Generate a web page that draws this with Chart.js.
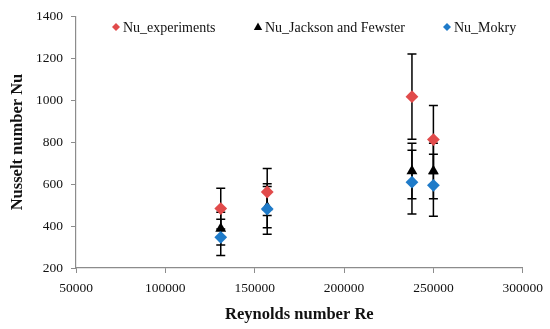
<!DOCTYPE html>
<html>
<head>
<meta charset="utf-8">
<script src="https://cdn.jsdelivr.net/npm/chart.js@4.4.0/dist/chart.umd.min.js"></script>
<style>
html,body{margin:0;padding:0;background:#fff;}
#wrap{width:550px;height:329px;position:relative;}
</style>
</head>
<body>
<div id="wrap"><canvas id="c" width="550" height="329"></canvas></div>
<script>
// ---- data ----
const reynolds = [131000, 157000, 238000, 250000];
const nuExperiments = [483, 562, 1016, 812];
const nuExperimentsErr = [97, 112, 203, 162];
const nuJackson = [388, 490, 662, 662];
const nuJacksonErr = [78, 98, 132, 132];
const nuMokry = [346, 481, 609, 594];
const nuMokryErr = [86, 120, 152, 148];
const xTickValues = [50000, 100000, 150000, 200000, 250000, 300000];
const yTickValues = [200, 400, 600, 800, 1000, 1200, 1400];
const seriesNames = ['Nu_experiments', 'Nu_Jackson and Fewster', 'Nu_Mokry'];
const xTitle = 'Reynolds number Re';
const yTitle = 'Nusselt number Nu';

const RED = '#E14B4B', BLACK = '#000000', BLUE = '#1F7BC9';
const SERIF = "'Liberation Serif', 'DejaVu Serif', serif";

function pts(ys) { return reynolds.map((x, i) => ({x: x, y: ys[i]})); }

const datasets = [
  {label: seriesNames[0], data: pts(nuExperiments), err: nuExperimentsErr, pointStyle: 'rectRot',
   pointRadius: 6.4, pointHoverRadius: 6.4, backgroundColor: RED, borderColor: RED, borderWidth: 0, order: 2},
  {label: seriesNames[1], data: pts(nuJackson), err: nuJacksonErr, pointStyle: 'triangle',
   pointRadius: 6.3, pointHoverRadius: 6.3, backgroundColor: BLACK, borderColor: BLACK, borderWidth: 0, order: 1},
  {label: seriesNames[2], data: pts(nuMokry), err: nuMokryErr, pointStyle: 'rectRot',
   pointRadius: 6.4, pointHoverRadius: 6.4, backgroundColor: BLUE, borderColor: BLUE, borderWidth: 0, order: 0}
];

const errorBars = {
  id: 'errorBars',
  beforeDatasetsDraw(chart) {
    const ctx = chart.ctx, xs = chart.scales.x, ys = chart.scales.y;
    ctx.save();
    ctx.strokeStyle = '#000';
    ctx.lineWidth = 1.5;
    chart.data.datasets.forEach(ds => {
      ds.data.forEach((p, i) => {
        const e = ds.err[i];
        const px = xs.getPixelForValue(p.x);
        const y1 = ys.getPixelForValue(p.y + e);
        const y2 = ys.getPixelForValue(p.y - e);
        const cw = 4.5;
        ctx.beginPath();
        ctx.moveTo(px, y1); ctx.lineTo(px, y2);
        ctx.moveTo(px - cw, y1); ctx.lineTo(px + cw, y1);
        ctx.moveTo(px - cw, y2); ctx.lineTo(px + cw, y2);
        ctx.stroke();
      });
    });
    ctx.restore();
  }
};

const customLegend = {
  id: 'customLegend',
  afterDraw(chart) {
    const ctx = chart.ctx;
    const y = 27;
    const items = [
      {x: 116, style: 'rectRot', color: RED},
      {x: 258, style: 'triangle', color: BLACK},
      {x: 447, style: 'rectRot', color: BLUE}
    ];
    ctx.save();
    ctx.font = '14px ' + SERIF;
    ctx.textBaseline = 'middle';
    ctx.textAlign = 'left';
    items.forEach((it, i) => {
      ctx.fillStyle = it.color;
      ctx.beginPath();
      if (it.style === 'rectRot') {
        const r = 4;
        ctx.moveTo(it.x, y - r); ctx.lineTo(it.x + r, y); ctx.lineTo(it.x, y + r); ctx.lineTo(it.x - r, y);
      } else {
        ctx.moveTo(it.x, y - 4.5); ctx.lineTo(it.x + 4.2, y + 3); ctx.lineTo(it.x - 4.2, y + 3);
      }
      ctx.closePath();
      ctx.fill();
      ctx.fillStyle = '#111';
      ctx.fillText(seriesNames[i], it.x + 7, y + 1);
    });
    ctx.restore();
  }
};

new Chart(document.getElementById('c'), {
  type: 'scatter',
  data: {datasets: datasets},
  plugins: [errorBars, customLegend],
  options: {
    responsive: false,
    animation: false,
    devicePixelRatio: 1,
    layout: {padding: {left: 0, right: 27, top: 15, bottom: 0}},
    plugins: {legend: {display: false}, tooltip: {enabled: false}},
    scales: {
      x: {
        type: 'linear', min: 50000, max: 300000,
        afterBuildTicks(s) { s.ticks = xTickValues.map(v => ({value: v})); },
        afterFit(s) { s.height = 61; },
        grid: {display: true, drawOnChartArea: false, drawTicks: true, tickLength: 5, color: '#8c8c8c', lineWidth: 1},
        border: {display: true, color: '#8c8c8c', width: 1.2},
        ticks: {font: {family: SERIF, size: 13.5}, color: '#111', padding: 7, maxRotation: 0,
                callback: v => String(v)},
        title: {display: true, text: xTitle, color: '#111',
                font: {family: SERIF, size: 16.5, weight: 'bold', lineHeight: 1.2}, padding: {top: 0, bottom: 4}}
      },
      y: {
        type: 'linear', min: 200, max: 1400,
        afterBuildTicks(s) { s.ticks = yTickValues.map(v => ({value: v})); },
        afterFit(s) { s.width = 76; },
        grid: {display: true, drawOnChartArea: false, drawTicks: true, tickLength: 5, color: '#8c8c8c', lineWidth: 1},
        border: {display: true, color: '#8c8c8c', width: 1.2},
        ticks: {font: {family: SERIF, size: 13.5}, color: '#111', padding: 8, callback: v => String(v)},
        title: {display: true, text: yTitle, color: '#111',
                font: {family: SERIF, size: 16.5, weight: 'bold', lineHeight: 1.2}, padding: {top: 8, bottom: 0}}
      }
    }
  }
});
</script>
</body>
</html>
